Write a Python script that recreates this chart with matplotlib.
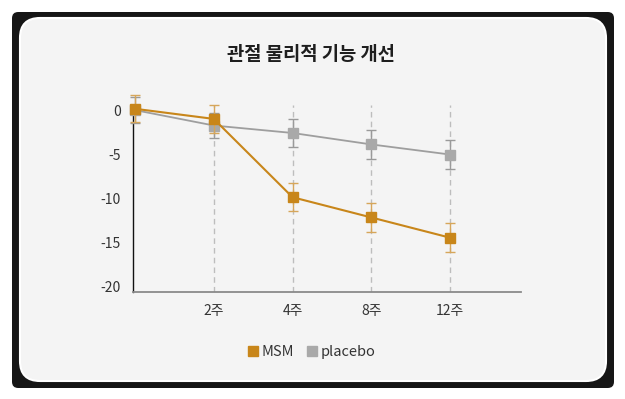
import matplotlib
matplotlib.use("Agg")
import matplotlib.pyplot as plt
from matplotlib.patches import FancyBboxPatch
from matplotlib.lines import Line2D

plt.rcParams['font.family'] = ['Noto Sans CJK KR', 'DejaVu Sans']

# ---- data ----
title = "관절 물리적 기능 개선"
categories = ["0주", "2주", "4주", "8주", "12주"]
tick_labels = ["", "2주", "4주", "8주", "12주"]
msm_values = [0.25, -0.9, -9.8, -12.1, -14.4]
msm_err = [1.55, 1.55, 1.6, 1.65, 1.65]
placebo_values = [0.1, -1.65, -2.5, -3.8, -4.95]
placebo_err = [1.5, 1.4, 1.6, 1.65, 1.6]
y_ticks = [0, -5, -10, -15, -20]
series_names = ["MSM", "placebo"]

msm_color = "#C8861A"
msm_err_color = "#D6A65A"
pl_color = "#A9A9A9"
pl_line = "#9E9E9E"
pl_err_color = "#9A9A9A"

W, H = 625, 399
fig = plt.figure(figsize=(W / 100, H / 100), dpi=100)
fig.patch.set_facecolor("white")

def fx(px):
    return px / W

def fy(py):
    return 1 - py / H

# dark frame
frame = FancyBboxPatch((fx(12), fy(388)), fx(602), 376 / H,
                       boxstyle="round,pad=0,rounding_size=0.01",
                       transform=fig.transFigure, facecolor="#161616",
                       edgecolor="none", zorder=0, mutation_aspect=W / H)
fig.patches.append(frame)
# light card
card = FancyBboxPatch((fx(20), fy(381)), fx(586), 363 / H,
                      boxstyle="round,pad=0,rounding_size=0.032",
                      transform=fig.transFigure, facecolor="#F4F4F4",
                      edgecolor="white", linewidth=1.5, zorder=1,
                      mutation_aspect=W / H)
fig.patches.append(card)

ax = fig.add_axes([fx(133), fy(292), fx(388), 187 / H])
ax.set_facecolor("none")
ax.set_zorder(2)

x = list(range(len(categories)))

ax.errorbar(x, placebo_values, yerr=placebo_err, color=pl_line, ecolor=pl_err_color,
            elinewidth=1.0, capsize=3.6, capthick=1.0, marker="s", markersize=6.5,
            markerfacecolor=pl_color, markeredgecolor=pl_color, linewidth=1.3,
            clip_on=False, zorder=3)
ax.errorbar(x, msm_values, yerr=msm_err, color=msm_color, ecolor=msm_err_color,
            elinewidth=1.0, capsize=3.6, capthick=1.0, marker="s", markersize=6.5,
            markerfacecolor=msm_color, markeredgecolor=msm_color, linewidth=1.5,
            clip_on=False, zorder=4)

ax.set_xlim(-0.025, 4.90)
ax.set_ylim(-20.57, 0.68)
ax.set_xticks(x)
ax.set_xticklabels(tick_labels)
ax.set_yticks(y_ticks)
ax.set_yticklabels([str(v) for v in y_ticks])
ax.tick_params(axis="both", length=0, labelsize=10, colors="#333333")
ax.tick_params(axis="y", pad=9)
ax.tick_params(axis="x", pad=9)

for i in x[1:]:
    ax.axvline(i, color="#BDBDBD", linestyle=(0, (4, 3)), linewidth=1.0, zorder=1)

for s in ["top", "right"]:
    ax.spines[s].set_visible(False)
ax.spines["left"].set_color("#111111")
ax.spines["left"].set_linewidth(1.0)
ax.spines["bottom"].set_color("#8A8A8A")
ax.spines["bottom"].set_linewidth(1.3)

fig.text(fx(311), fy(55), title, ha="center", va="center", fontsize=13.5,
         fontweight="bold", color="#1E1E1E")

handles = [Line2D([], [], linestyle="none", marker="s", markersize=6.5,
                  markerfacecolor=msm_color, markeredgecolor=msm_color),
           Line2D([], [], linestyle="none", marker="s", markersize=6.5,
                  markerfacecolor=pl_color, markeredgecolor=pl_color)]
leg = fig.legend(handles, series_names, loc="center", bbox_to_anchor=(fx(312), fy(352)),
                 ncol=2, frameon=False, fontsize=10.5, handlelength=0.6,
                 handletextpad=0.3, columnspacing=0.9)
for t in leg.get_texts():
    t.set_color("#333333")

fig.savefig("out.png", dpi=100, facecolor=fig.get_facecolor())
